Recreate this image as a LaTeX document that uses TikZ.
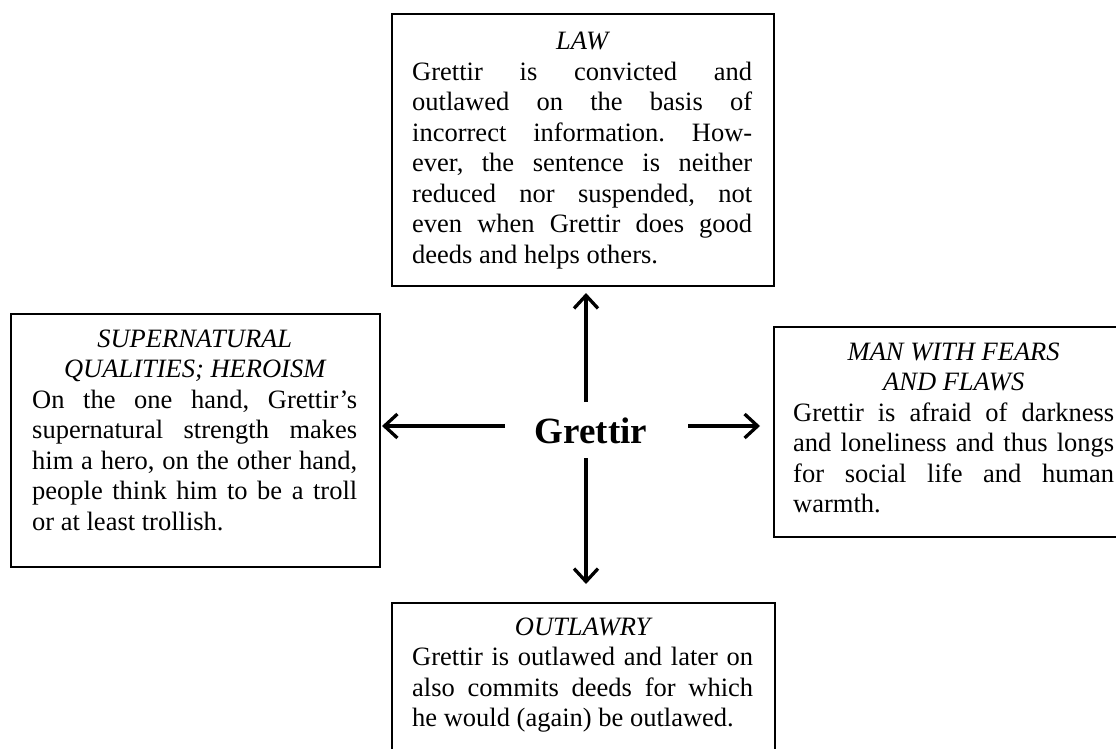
\documentclass[tikz,border=0pt]{standalone}
\usepackage{fontspec}
\setmainfont{Liberation Serif}
\usetikzlibrary{arrows.meta}
\frenchspacing
\newcommand{\boxtext}[2]{\parbox[t]{#1}{\fontsize{26.5pt}{30.5pt}\selectfont\frenchspacing\tolerance=10000\hbadness=10000\hyphenpenalty=10000 #2}}
\begin{document}
\begin{tikzpicture}[x=1pt,y=-1pt,
  box/.style={draw, line width=2.2pt, anchor=north west, inner sep=0pt},
  body/.style={anchor=base west, inner sep=0pt},
  arr/.style={line width=3.3pt, -{Straight Barb[length=13pt,width=24pt]}}
]
\useasboundingbox (0,0) rectangle (1116,749);
\clip (0,0) rectangle (1116,749);

% boxes
\node[box, minimum width=382pt, minimum height=272pt] (lawbox) at (391,13) {};
\node[box, minimum width=369pt, minimum height=253pt] (superbox) at (10,313) {};
\node[box, minimum width=361pt, minimum height=210pt] (fearbox) at (773,326) {};
\node[box, minimum width=383pt, minimum height=150pt] (outbox) at (391,602) {};

% texts
\node[body] (lawtxt) at (412,50) {\boxtext{340pt}{{\centering\itshape LAW\par}Grettir is convicted and\linebreak outlawed on the basis of\linebreak incorrect information. How-\linebreak ever, the sentence is neither\linebreak reduced nor suspended, not\linebreak even when Grettir does good\linebreak deeds and helps others.}};

\node[body] (supertxt) at (32,347) {\boxtext{325pt}{{\centering\itshape SUPERNATURAL\\QUALITIES; HEROISM\par}On the one hand, Grettir’s\linebreak supernatural strength makes\linebreak him a hero, on the other hand,\linebreak people think him to be a troll\linebreak or at least trollish.}};

\node[body] (feartxt) at (793,360) {\boxtext{321pt}{{\centering\itshape MAN WITH FEARS\\AND FLAWS\par}Grettir is afraid of darkness\linebreak and loneliness and thus longs\linebreak for social life and human\linebreak warmth.}};

\node[body] (outtxt) at (412,635) {\boxtext{341pt}{{\centering\itshape OUTLAWRY\par}Grettir is outlawed and later on\linebreak also commits deeds for which\linebreak he would (again) be outlawed.}};

% centre
\node[inner sep=0pt, anchor=base, font=\fontsize{37pt}{40pt}\selectfont\bfseries] (g) at (591,443) {Grettir};

% arrow ends
\coordinate (upS) at (586,402);
\coordinate (upE) at (586,293);
\coordinate (dnS) at (586,458);
\coordinate (dnE) at (586,584);
\coordinate (rtS) at (688,426);
\coordinate (rtE) at (760,426);
\coordinate (ltS) at (505,426);
\coordinate (ltE) at (382,426);

\draw[arr] (upS) -- (upE);
\draw[arr] (dnS) -- (dnE);
\draw[arr] (rtS) -- (rtE);
\draw[arr] (ltS) -- (ltE);
\end{tikzpicture}
\end{document}
